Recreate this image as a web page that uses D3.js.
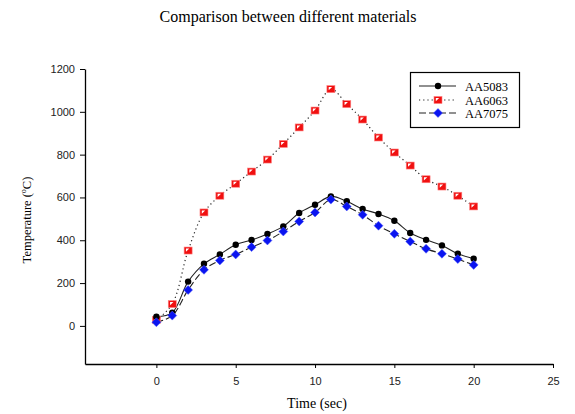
<html>
<head>
<script src="https://cdnjs.cloudflare.com/ajax/libs/d3/7.8.5/d3.min.js"></script>
<style>
  body { margin: 0; background: #fff; }
  .tick text { font-family: "Liberation Sans", Arial, sans-serif; font-size: 11px; fill: #222; }
</style>
</head>
<body>
<svg id="chart" width="575" height="414"></svg>
<script>
// time in seconds
var time = [0,1,2,3,4,5,6,7,8,9,10,11,12,13,14,15,16,17,18,19,20];
var aa5083 = [43,62,207,290,334,379,401,429,465,527,566,605,582,546,523,491,434,402,376,337,314];
var aa6063 = [28,102,352,530,608,664,721,777,850,927,1006,1106,1036,964,880,810,749,685,651,608,558];
var aa7075 = [17,48,168,262,306,334,368,399,441,488,530,590,558,519,468,430,394,360,337,312,285];
var xTicks = [0,5,10,15,20,25];
var yTicks = [0,200,400,600,800,1000,1200];
var names = ["AA5083","AA6063","AA7075"];

var svg = d3.select("#chart");

var x = d3.scaleLinear().domain([-4.5, 25]).range([85, 553]);
var y = d3.scaleLinear().domain([-178, 1200]).range([364, 69]);

// title
svg.append("text")
  .attr("x", 288).attr("y", 22)
  .attr("text-anchor", "middle")
  .style("font-family", "'Liberation Serif', 'Times New Roman', serif")
  .style("font-size", "16px")
  .text("Comparison between different materials");

// axes
var xAxis = d3.axisBottom(x).tickValues(xTicks).tickSize(4).tickPadding(9).tickSizeOuter(0).tickFormat(d3.format("d"));
var yAxis = d3.axisLeft(y).tickValues(yTicks).tickSize(5).tickPadding(5).tickSizeOuter(0).tickFormat(d3.format("d"));

var gx = svg.append("g").attr("transform", "translate(0,364)").call(xAxis);
var gy = svg.append("g").attr("transform", "translate(85,0)").call(yAxis);
[gx, gy].forEach(function(g) {
  g.select(".domain").attr("stroke", "#000").attr("stroke-width", 1.3);
  g.selectAll(".tick line").attr("stroke", "#000");
});

// axis labels
svg.append("text")
  .attr("x", 317).attr("y", 408)
  .attr("text-anchor", "middle")
  .style("font-family", "'Liberation Serif', 'Times New Roman', serif")
  .style("font-size", "14px")
  .text("Time (sec)");

var yl = svg.append("text")
  .attr("transform", "translate(31,220) rotate(-90)")
  .attr("text-anchor", "middle")
  .style("font-family", "'Liberation Serif', 'Times New Roman', serif")
  .style("font-size", "12.5px");
yl.append("tspan").text("Temperature (");
yl.append("tspan").attr("dy", -5).style("font-size", "8px").text("o");
yl.append("tspan").attr("dy", 5).text("C)");

// series
var series = [
  { name: names[0], vals: aa5083, dash: null, width: 1.1 },
  { name: names[1], vals: aa6063, dash: "1.2,3", width: 1.2 },
  { name: names[2], vals: aa7075, dash: "7,3", width: 1.1 }
];

var line = d3.line()
  .x(function(d) { return x(d[0]); })
  .y(function(d) { return y(d[1]); })
  .curve(d3.curveCatmullRom.alpha(0.5));

series.forEach(function(s) {
  var pts = time.map(function(t, i) { return [t, s.vals[i]]; });
  svg.append("path")
    .datum(pts)
    .attr("d", line)
    .attr("fill", "none")
    .attr("stroke", "#222")
    .attr("stroke-width", s.width)
    .attr("stroke-dasharray", s.dash);
});

function drawMarker(g, name, cx, cy) {
  if (name === "AA5083") {
    g.append("circle").attr("cx", cx).attr("cy", cy).attr("r", 3.2).attr("fill", "#000");
  } else if (name === "AA6063") {
    g.append("rect").attr("x", cx - 4).attr("y", cy - 3.5).attr("width", 8).attr("height", 7)
      .attr("fill", "#f01010").attr("stroke", "#ff8080").attr("stroke-width", 0.6);
    g.append("path")
      .attr("d", "M" + (cx - 2.2) + "," + (cy + 1.2) + "L" + (cx - 2.2) + "," + (cy - 2) + "L" + (cx + 1.2) + "," + (cy - 2) + "Z")
      .attr("fill", "#fff");
  } else {
    g.append("path")
      .attr("d", "M" + cx + "," + (cy - 4.5) + "L" + (cx + 4.5) + "," + cy + "L" + cx + "," + (cy + 4.5) + "L" + (cx - 4.5) + "," + cy + "Z")
      .attr("fill", "#0a14f0").attr("stroke", "#5560ff").attr("stroke-width", 0.5);
  }
}

// draw markers: red first, then black, then blue on top
var markerOrder = [1, 0, 2];
markerOrder.forEach(function(k) {
  var s = series[k];
  var g = svg.append("g");
  time.forEach(function(t, i) { drawMarker(g, s.name, x(t), y(s.vals[i])); });
});

// legend
var lg = svg.append("g");
lg.append("rect").attr("x", 410.5).attr("y", 72.5).attr("width", 109).attr("height", 55)
  .attr("fill", "#fff").attr("stroke", "#000").attr("stroke-width", 1.2);
var rowY = [86, 100, 113];
series.forEach(function(s, i) {
  lg.append("line").attr("x1", 419).attr("x2", 456).attr("y1", rowY[i]).attr("y2", rowY[i])
    .attr("stroke", "#222").attr("stroke-width", s.width).attr("stroke-dasharray", s.dash);
  drawMarker(lg, s.name, 438, rowY[i]);
  lg.append("text").attr("x", 465).attr("y", rowY[i] + 4.5)
    .style("font-family", "'Liberation Serif', 'Times New Roman', serif")
    .style("font-size", "12.5px")
    .text(s.name);
});
</script>
</body>
</html>
